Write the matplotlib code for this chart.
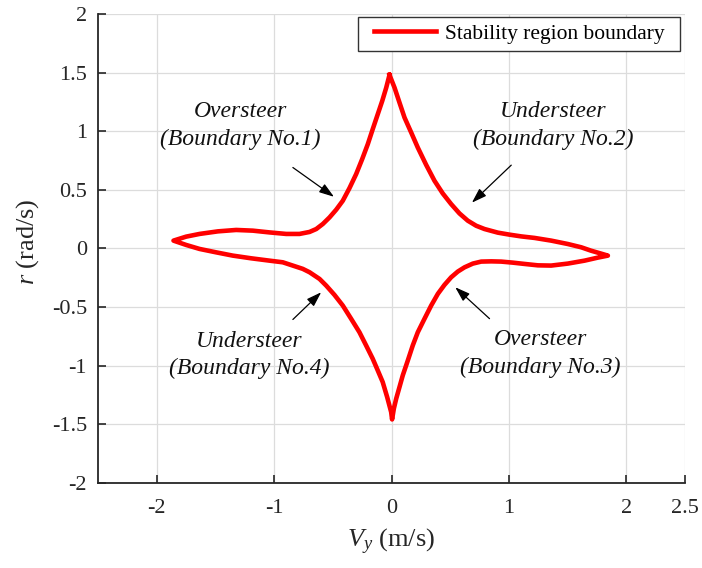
"""Stability region boundary in the Vy-r phase plane."""
import matplotlib
matplotlib.use('Agg')
import matplotlib.pyplot as plt
from matplotlib.patches import Rectangle

plt.rcParams['font.family'] = ['Liberation Serif', 'DejaVu Serif']
plt.rcParams['mathtext.fontset'] = 'custom'
plt.rcParams['mathtext.rm'] = 'Liberation Serif'
plt.rcParams['mathtext.it'] = 'Liberation Serif:italic'

# boundary No.2 (top cusp -> right tip)
VY_B2 = [-0.017, 0.026, 0.068, 0.111, 0.168, 0.224, 0.295, 0.366, 0.437, 0.508, 0.579, 0.650,
         0.721, 0.792, 0.906, 1.005, 1.105, 1.218, 1.360, 1.502, 1.616, 1.700, 1.786, 1.843]
R_B2 = [1.480, 1.371, 1.244, 1.116, 0.988, 0.860, 0.713, 0.577, 0.468, 0.378, 0.298, 0.236,
        0.193, 0.165, 0.134, 0.117, 0.102, 0.089, 0.066, 0.037, 0.009, -0.020, -0.045, -0.062]
# boundary No.3 (right tip -> bottom cusp)
VY_B3 = [1.758, 1.644, 1.502, 1.360, 1.247, 1.133, 1.034, 0.934, 0.849, 0.764, 0.693, 0.622,
         0.565, 0.508, 0.451, 0.395, 0.338, 0.281, 0.224, 0.181, 0.139, 0.096, 0.068, 0.040,
         0.020, 0.005]
R_B3 = [-0.079, -0.105, -0.130, -0.147, -0.145, -0.133, -0.122, -0.113, -0.111, -0.113, -0.130,
        -0.162, -0.198, -0.247, -0.312, -0.388, -0.488, -0.601, -0.716, -0.829, -0.957, -1.084,
        -1.184, -1.283, -1.368, -1.460]
# boundary No.4 (bottom cusp -> left tip)
VY_B4 = [-0.003, -0.037, -0.075, -0.117, -0.160, -0.216, -0.273, -0.344, -0.415, -0.486, -0.556,
         -0.613, -0.698, -0.756, -0.841, -0.926, -1.039, -1.195, -1.352, -1.494, -1.635, -1.749,
         -1.857]
R_B4 = [-1.397, -1.269, -1.141, -1.042, -0.942, -0.829, -0.716, -0.601, -0.488, -0.397, -0.318,
        -0.261, -0.204, -0.175, -0.147, -0.119, -0.105, -0.085, -0.062, -0.034, -0.005, 0.029,
        0.066]
# boundary No.1 (left tip -> top cusp)
VY_B1 = [-1.749, -1.635, -1.479, -1.323, -1.181, -1.039, -0.897, -0.784, -0.698, -0.641, -0.585,
         -0.528, -0.471, -0.415, -0.358, -0.301, -0.250, -0.202, -0.160, -0.117, -0.079, -0.045,
         -0.017]
R_B1 = [0.100, 0.123, 0.145, 0.157, 0.151, 0.136, 0.123, 0.123, 0.140, 0.165, 0.208, 0.264,
        0.330, 0.406, 0.514, 0.634, 0.761, 0.889, 1.017, 1.145, 1.258, 1.371, 1.480]

X_TICKS = [-2, -1, 0, 1, 2, 2.5]
X_LABELS = ['-2', '-1', '0', '1', '2', '2.5']
Y_TICKS = [-2, -1.5, -1, -0.5, 0, 0.5, 1, 1.5, 2]
Y_LABELS = ['-2', '-1.5', '-1', '-0.5', '0', '0.5', '1', '1.5', '2']

# (label, text position, arrow tail, arrow head)
NOTES = [
    ('Oversteer\n(Boundary No.1)', (-1.29, 1.05), (-0.84, 0.69), (-0.49, 0.44)),
    ('Understeer\n(Boundary No.2)', (1.38, 1.05), (1.02, 0.71), (0.685, 0.39)),
    ('Oversteer\n(Boundary No.3)', (1.27, -0.90), (0.835, -0.60), (0.543, -0.332)),
    ('Understeer\n(Boundary No.4)', (-1.21, -0.91), (-0.84, -0.607), (-0.599, -0.375)),
]

vy = VY_B2 + VY_B3 + VY_B4 + VY_B1
r = R_B2 + R_B3 + R_B4 + R_B1

W, H = 702, 568
fig = plt.figure(figsize=(W / 100, H / 100), dpi=100)
ax = fig.add_axes([98 / W, 1 - 482.7 / H, (685 - 98) / W, (482.7 - 14) / H])

ax.plot(vy, r, color='#ff0000', lw=3.3, solid_joinstyle='round',
        label='Stability region boundary', zorder=3)

for text, pos, tail, head in NOTES:
    ax.annotate('', xy=head, xytext=tail,
                arrowprops=dict(arrowstyle='-|>,head_length=0.9,head_width=0.3',
                                color='black', lw=0.9, shrinkA=0, shrinkB=0))
    ax.text(pos[0], pos[1], text, fontsize=17, style='italic', ha='center', va='center',
            linespacing=1.4, color='#111111')

ax.set_xlim(-2.5, 2.5)
ax.set_ylim(-2, 2)
ax.set_xticks(X_TICKS)
ax.set_xticklabels(X_LABELS)
ax.set_yticks(Y_TICKS)
ax.set_yticklabels(Y_LABELS)
ax.tick_params(direction='in', length=6, width=1.2, labelsize=16, colors='#262626')
ax.tick_params(axis='x', pad=12)
ax.tick_params(axis='y', pad=8)
ax.grid(True, color='#dcdcdc', lw=0.9)
ax.set_axisbelow(True)
for side in ['top', 'right']:
    ax.spines[side].set_visible(False)
for side in ['left', 'bottom']:
    ax.spines[side].set_linewidth(1.3)
    ax.spines[side].set_color('#262626')

ax.set_xlabel(r'$V_y$ (m/s)', fontsize=19, color='#262626', labelpad=6)
ax.set_ylabel(r'$r$ (rad/s)', fontsize=19, color='#262626')
ax.yaxis.set_label_coords(-0.097, 0.515)

# legend box drawn separately so its side padding can be wider than the top/bottom one
box = Rectangle((358 / W, 1 - 51 / H), (680 - 358) / W, 34 / H, transform=fig.transFigure,
                facecolor='white', edgecolor='#333333', lw=1.0, zorder=4, clip_on=False)
ax.add_patch(box)
leg = ax.legend(loc='center', bbox_to_anchor=(519 / W, 1 - 34 / H),
                bbox_transform=fig.transFigure, borderaxespad=0, fontsize=15.5,
                handlelength=2.9, handletextpad=0.4, frameon=False, borderpad=0)
leg.set_zorder(5)

fig.savefig('out.png', dpi=100)
